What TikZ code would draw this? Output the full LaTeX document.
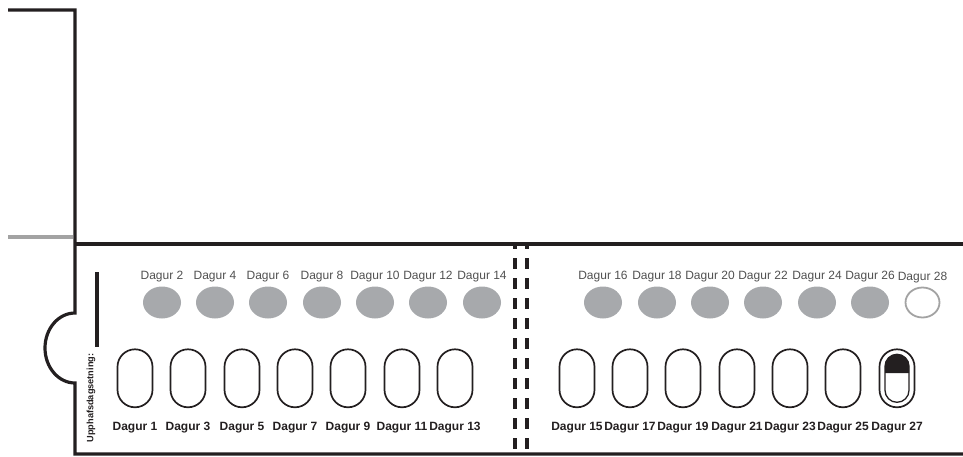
\documentclass[tikz,border=0pt]{standalone}
\usepackage{fontspec}
\setmainfont{Liberation Sans}
\usepackage{tikz}
\usetikzlibrary{shapes.geometric,positioning}
\definecolor{PillGray}{HTML}{A7A9AC}
\definecolor{EdgeGray}{HTML}{A3A3A3}
\definecolor{TextGray}{HTML}{505050}
\definecolor{TextDark}{HTML}{231F20}

\begin{document}
\begin{tikzpicture}[x=1pt,y=-1pt,
  frame/.style={draw=TextDark,line width=3.2pt},
  perf/.style={draw=TextDark,line width=3.6pt,dash pattern=on 11pt off 9pt,dash phase=6pt},
  pill/.style={ellipse,fill=PillGray,minimum width=38pt,minimum height=32pt,inner sep=0pt},
  capsule/.style={rectangle,draw=TextDark,line width=1.7pt,rounded corners=17.5pt,
                  minimum width=35pt,minimum height=58pt,inner sep=0pt},
  daytop/.style={font=\fontsize{12}{14}\selectfont,text=TextGray,inner sep=0pt},
  daybot/.style={font=\fontsize{12}{14}\selectfont\bfseries,text=TextDark,inner sep=0pt}
]
\useasboundingbox (0,0) rectangle (963,457);

% sheet outline with the thumb notch
\draw[frame] (8,10) -- (75,10) -- (75,313)
  arc[start angle=270,end angle=90,x radius=30,y radius=35] -- (75,454) -- (963,454);
\draw[frame] (75,244) -- (963,244);
\draw[draw=EdgeGray,line width=3.4pt] (8,237) -- (73.4,237);
\draw[frame] (97,272) -- (97,347);

% perforation
\draw[perf] (515,244) -- (515,454);
\draw[perf] (527,244) -- (527,454);

\node[rotate=90,font=\fontsize{9.2}{10}\selectfont\bfseries,text=TextDark,inner sep=0pt]
  (start) at (91,398) {Upphafsdagsetning:};

% even days: round pills
\foreach \n/\x in {2/162,4/215,6/268,8/322,10/375,12/428,14/482,
                   16/603,18/657,20/710,22/763,24/817,26/870} {
  \node[pill] (d\n) at (\x,302.5) {};
  \node[daytop,above=4pt of d\n] (l\n) {Dagur \n};
}
\node[pill,fill=white,draw=EdgeGray,line width=1.8pt,minimum width=34pt,minimum height=30pt]
  (d28) at (922.5,302.5) {};
\node[daytop,above=3pt of d28] (l28) {Dagur 28};

% odd days: capsules
\foreach \n/\x in {1/135,3/188,5/242,7/295,9/348,11/402,13/455,
                   15/577,17/630,19/683,21/737,23/790,25/843,27/897} {
  \node[capsule] (c\n) at (\x,378.3) {};
  \node[daybot,below=13.5pt of c\n] (b\n) {Dagur \n};
}
\fill[TextDark] (885,373) -- (885,366) arc[start angle=180,end angle=360,radius=12] -- (909,373) -- cycle;
\node[capsule,line width=1.3pt,rounded corners=12pt,minimum width=24pt,minimum height=48pt]
  (i27) at (c27.center) {};
\end{tikzpicture}
\end{document}
